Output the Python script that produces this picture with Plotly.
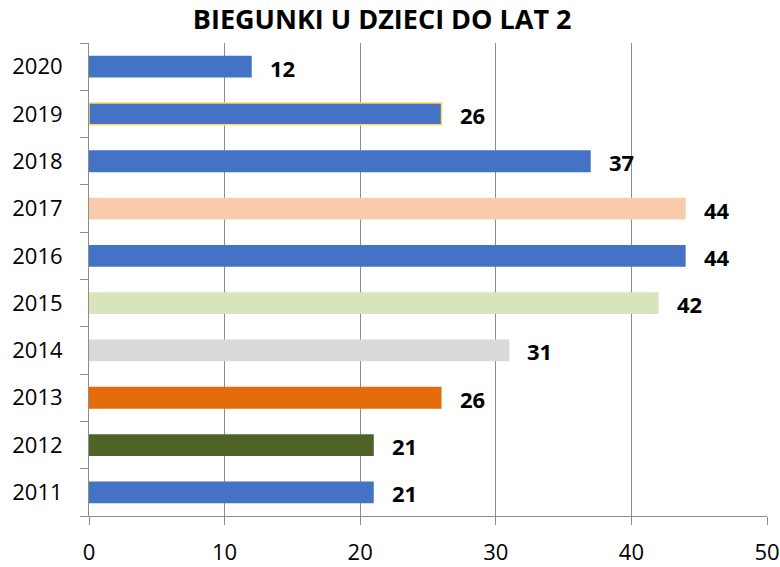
import plotly.graph_objects as go

years = ["2011", "2012", "2013", "2014", "2015", "2016", "2017", "2018", "2019", "2020"]
values = [21, 21, 26, 31, 42, 44, 44, 37, 26, 12]
colors = ["#4472C4", "#4F6228", "#E46C0A", "#D9D9D9", "#D8E4BC",
          "#4472C4", "#F8CBAD", "#4472C4", "#4472C4", "#4472C4"]
outline = ["rgba(0,0,0,0)"] * 8 + ["#FFD966", "rgba(0,0,0,0)"]
x_ticks = [0, 10, 20, 30, 40, 50]

fig = go.Figure()
fig.add_trace(go.Bar(
    x=values, y=years, orientation="h",
    marker=dict(color=colors, line=dict(color=outline, width=1.5)),
    width=0.46, hoverinfo="skip",
))

for i, v in enumerate(values):
    fig.add_annotation(x=v, y=i, xref="x", yref="y", text="<b>%d</b>" % v,
                       showarrow=False, xanchor="left", yanchor="middle",
                       xshift=16, yshift=-1,
                       font=dict(family="Open Sans", size=22, color="#000000"))

fig.update_layout(
    width=780, height=567,
    margin=dict(l=89, r=13, t=43, b=51),
    paper_bgcolor="white", plot_bgcolor="white",
    showlegend=False,
    title=dict(text="<b>BIEGUNKI U DZIECI DO LAT 2</b>", x=0.49, xanchor="center",
               y=0.965, yanchor="middle",
               font=dict(family="Open Sans", size=27, color="#000000")),
    xaxis=dict(range=[0, 50], tickvals=x_ticks, showgrid=True, gridcolor="#8C8C8C",
               gridwidth=1, zeroline=False, showline=True, linecolor="#8C8C8C",
               ticks="outside", ticklen=8, tickcolor="#8C8C8C", automargin=False,
               ticklabelstandoff=9,
               tickfont=dict(family="Open Sans", size=22, color="#000000")),
    yaxis=dict(type="category", showline=True, linecolor="#8C8C8C", ticks="outside",
               tickson="boundaries", ticklen=8, tickcolor="#8C8C8C", showgrid=False,
               range=[-0.5, 9.5], automargin=False, ticklabelstandoff=21,
               tickfont=dict(family="Open Sans", size=22, color="#000000")),
)

fig.write_html("out.html", config={"displayModeBar": False},
               post_script="document.body.style.margin='0';")
